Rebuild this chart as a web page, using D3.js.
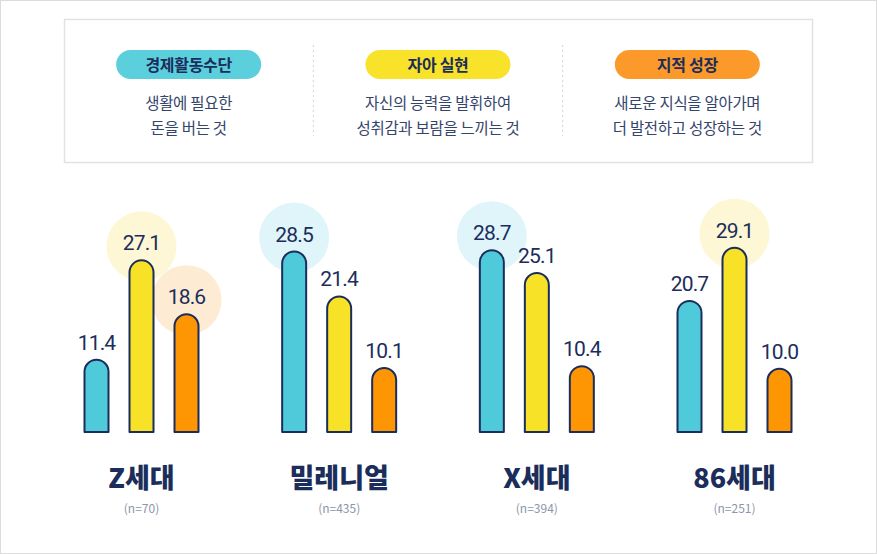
<!DOCTYPE html>
<html><head><meta charset="utf-8">
<script src="https://cdn.jsdelivr.net/npm/d3@7"></script>
<style>
html,body{margin:0;padding:0;background:#fff;}
svg{display:block;}
</style></head>
<body>
<svg id="chart" width="877" height="554"></svg>
<script>
// ---- data ----
const groups = ["Z세대", "밀레니얼", "X세대", "86세대"];
const sampleSizes = ["(n=70)", "(n=435)", "(n=394)", "(n=251)"];
const series = ["경제활동수단", "자아 실현", "지적 성장"];
const seriesDesc1 = ["생활에 필요한", "자신의 능력을 발휘하여", "새로운 지식을 알아가며"];
const seriesDesc2 = ["돈을 버는 것", "성취감과 보람을 느끼는 것", "더 발전하고 성장하는 것"];
const economic = [11.4, 28.5, 28.7, 20.7];
const selfReal = [27.1, 21.4, 25.1, 29.1];
const growth = [18.6, 10.1, 10.4, 10.0];
const highlightEconomic = [false, true, true, false];
const highlightSelf = [true, false, false, true];
const highlightGrowth = [true, false, false, false];

const seriesValues = [economic, selfReal, growth];
const seriesHighlight = [highlightEconomic, highlightSelf, highlightGrowth];
const fillColors = ["#4fcadb", "#f7e228", "#fe9502"];
const pillColors = ["#5bcfdc", "#f8e22a", "#fb9a2b"];
const haloColors = ["#e0f5f9", "#fdf7d5", "#fdebd4"];
const navy = "#1b2d5b";

const svg = d3.select("#chart");

// outer frame
svg.append("rect").attr("x", 0.5).attr("y", 0.5).attr("width", 876).attr("height", 553)
  .attr("fill", "#fff").attr("stroke", "#dcdcdc");

// ---- legend box ----
const box = {x: 64, y: 19, w: 748, h: 143};
svg.append("rect").attr("x", box.x + 0.5).attr("y", box.y + 0.5).attr("width", box.w).attr("height", box.h)
  .attr("fill", "#fff").attr("stroke", "#e2e2e2").attr("stroke-width", 1.5);

const legX = d3.scaleBand().domain(series).range([box.x, box.x + box.w]);
const leg = svg.append("g").selectAll("g").data(series).join("g")
  .attr("transform", d => `translate(${legX(d) + legX.bandwidth() / 2},0)`);
leg.append("rect").attr("x", -72.5).attr("y", 50).attr("width", 145).attr("height", 29).attr("rx", 14.5)
  .attr("fill", (d, i) => pillColors[i]);
leg.append("text").attr("y", 70.5).attr("text-anchor", "middle")
  .attr("font-family", "'Noto Sans CJK KR', sans-serif").attr("font-weight", 700).attr("font-size", 16)
  .attr("letter-spacing", -0.3).attr("fill", navy).text(d => d);
leg.append("text").attr("y", 108.5).attr("text-anchor", "middle")
  .attr("font-family", "'Noto Sans CJK KR', sans-serif").attr("font-size", 15.5)
  .attr("letter-spacing", -0.3).attr("fill", "#34456b").text((d, i) => seriesDesc1[i]);
leg.append("text").attr("y", 133.5).attr("text-anchor", "middle")
  .attr("font-family", "'Noto Sans CJK KR', sans-serif").attr("font-size", 15.5)
  .attr("letter-spacing", -0.3).attr("fill", "#34456b").text((d, i) => seriesDesc2[i]);
// dashed dividers
svg.append("g").selectAll("line").data(series.slice(1)).join("line")
  .attr("x1", d => legX(d)).attr("x2", d => legX(d)).attr("y1", 45).attr("y2", 136)
  .attr("stroke", "#cfd3da").attr("stroke-dasharray", "2,3");

// ---- bars ----
const x0 = d3.scalePoint().domain(groups).range([141.5, 734.5]);
const x1 = d3.scalePoint().domain(series).range([-45, 45]);
const y = d3.scaleLinear().domain([0, 30]).range([432, 242]);
const bw = 24;

const cells = [];
groups.forEach((g, gi) => series.forEach((s, si) => {
  cells.push({g, s, si, v: seriesValues[si][gi], hl: seriesHighlight[si][gi]});
}));

const cx = d => x0(d.g) + x1(d.s);

// halos first
svg.append("g").selectAll("circle").data(cells.filter(d => d.hl)).join("circle")
  .attr("cx", cx).attr("cy", d => y(d.v) - 14).attr("r", 35)
  .attr("fill", d => haloColors[d.si]);

function barPath(d) {
  const l = cx(d) - bw / 2, r = bw / 2, top = y(d.v), bot = y(0);
  return `M${l},${bot}V${top + r}A${r},${r} 0 0 1 ${l + bw},${top + r}V${bot}Z`;
}
svg.append("g").selectAll("path").data(cells).join("path")
  .attr("d", barPath).attr("fill", d => fillColors[d.si])
  .attr("stroke", navy).attr("stroke-width", 2).attr("stroke-linejoin", "round");

svg.append("g").selectAll("text").data(cells).join("text")
  .attr("x", cx).attr("y", d => y(d.v) - 10).attr("text-anchor", "middle")
  .attr("font-family", "Roboto, sans-serif").attr("font-weight", 400).attr("font-size", 21)
  .attr("letter-spacing", -0.8).attr("fill", navy).text(d => d.v.toFixed(1));

// category labels
const cat = svg.append("g").selectAll("g").data(groups).join("g")
  .attr("transform", d => `translate(${x0(d)},0)`);
cat.append("text").attr("y", 488).attr("text-anchor", "middle")
  .attr("font-family", "'Noto Sans CJK KR', sans-serif").attr("font-weight", 900).attr("font-size", 27)
  .attr("letter-spacing", 0).attr("fill", navy).text(d => d);
cat.append("text").attr("y", 513).attr("text-anchor", "middle")
  .attr("font-family", "'Noto Sans CJK KR', sans-serif").attr("font-size", 12)
  .attr("fill", "#8c95aa").text((d, i) => sampleSizes[i]);
</script>
</body></html>
